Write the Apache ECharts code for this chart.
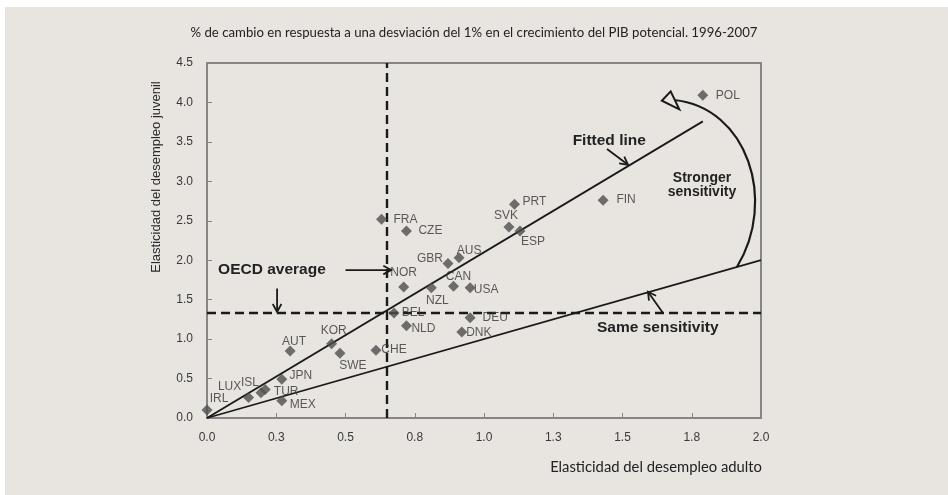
<!DOCTYPE html>
<html>
<head>
<meta charset="utf-8">
<script src="https://cdn.jsdelivr.net/npm/echarts@6/dist/echarts.min.js"></script>
<style>
  html, body { margin: 0; padding: 0; background: #fff; }
  #chart { width: 948px; height: 495px; }
</style>
</head>
<body>
<div id="chart"></div>
<script>
// countries and elasticities
const countries = ['IRL', 'LUX', 'ISL', 'TUR', 'MEX', 'JPN', 'AUT', 'KOR', 'SWE', 'CHE', 'BEL', 'NLD', 'NOR', 'NZL',
  'CAN', 'USA', 'GBR', 'AUS', 'DEU', 'DNK', 'FRA', 'CZE', 'PRT', 'SVK', 'ESP', 'FIN', 'POL']
const adultElast = [0.00, 0.15, 0.195, 0.21, 0.27, 0.27, 0.30, 0.45, 0.48, 0.61, 0.675, 0.72, 0.71, 0.81,
  0.89, 0.95, 0.87, 0.91, 0.95, 0.92, 0.63, 0.72, 1.11, 1.09, 1.13, 1.43, 1.79]
const youthElast = [0.10, 0.26, 0.32, 0.36, 0.22, 0.49, 0.85, 0.94, 0.82, 0.86, 1.33, 1.17, 1.66, 1.65,
  1.67, 1.65, 1.96, 2.03, 1.27, 1.09, 2.52, 2.37, 2.71, 2.42, 2.37, 2.76, 4.09]

const oecdAdult = 0.653
const oecdYouth = 1.343
const fittedLine = [[0, 0], [1.79, 3.76]]
const sameLine = [[0, 0], [2.0, 2.0]]

// label offsets (px) from the marker centre
const labelOffset = {
  IRL: [12, -11], LUX: [-19, -11], ISL: [-11, -10], TUR: [21, 2], MEX: [21, 4], JPN: [19, -4],
  AUT: [4, -9], KOR: [2, -13], SWE: [13, 12], CHE: [18, 0], BEL: [19, 0], NLD: [17, 3],
  NOR: [0, -14], NZL: [6, 13], CAN: [5, -10], USA: [16, 2], GBR: [-18, -5], AUS: [10, -7],
  DEU: [25, 0], DNK: [17, 1], FRA: [24, 0], CZE: [24, 0], PRT: [20, -3], SVK: [-3, -11],
  ESP: [13, 11], FIN: [23, -1], POL: [25, 0]
}

const bg = '#e8e5e1'
const chart = echarts.init(document.getElementById('chart'))

const option = {
  backgroundColor: '#ffffff',
  animation: false,
  grid: { left: 207, right: 187, top: 63, bottom: 77, show: true, borderColor: '#858585', borderWidth: 2 },
  xAxis: {
    type: 'value', min: 0, max: 2, interval: 0.25,
    axisLine: { lineStyle: { color: '#858585', width: 2 } },
    axisTick: { inside: true, length: 5, lineStyle: { color: '#858585' } },
    splitLine: { show: false },
    axisLabel: { formatter: v => v.toFixed(1), color: '#3a3a3a', fontSize: 12, fontFamily: 'Liberation Sans', margin: 14 }
  },
  yAxis: {
    type: 'value', min: 0, max: 4.5, interval: 0.5,
    axisLine: { show: true, lineStyle: { color: '#858585', width: 2 } },
    axisTick: { show: true, inside: true, length: 5, lineStyle: { color: '#858585' } },
    splitLine: { show: false },
    axisLabel: { formatter: v => v.toFixed(1), color: '#3a3a3a', fontSize: 12, fontFamily: 'Liberation Sans', margin: 14 }
  },
  series: [
    {
      type: 'line', data: fittedLine, symbol: 'none', z: 3,
      lineStyle: { color: '#1a1a1a', width: 1.8 }
    },
    {
      type: 'line', data: sameLine, symbol: 'none', z: 3,
      lineStyle: { color: '#1a1a1a', width: 1.8 },
      markLine: {
        silent: true, symbol: 'none', label: { show: false },
        lineStyle: { color: '#1a1a1a', type: [9, 5], width: 2.4 },
        data: [{ xAxis: oecdAdult }, { yAxis: oecdYouth }]
      }
    },
    {
      type: 'scatter', symbol: 'diamond', symbolSize: 11, z: 5,
      itemStyle: { color: '#4d4d4d' },
      label: {
        show: true, position: 'inside', formatter: '{b}',
        color: '#333333', fontSize: 12, fontFamily: 'Liberation Sans'
      },
      data: countries.map((c, i) => ({
        name: c,
        value: [adultElast[i], youthElast[i]],
        label: { offset: labelOffset[c] }
      }))
    }
  ]
}
chart.setOption(option)

// annotations placed in data coordinates
const px = (x, y) => chart.convertToPixel({ gridIndex: 0 }, [x, y])
const ink = '#1a1a1a'

function arrow (from, to, head) {
  const a = px(from[0], from[1])
  const b = px(to[0], to[1])
  const ang = Math.atan2(b[1] - a[1], b[0] - a[0])
  const len = head || 9
  const h1 = [b[0] - len * Math.cos(ang - 0.5), b[1] - len * Math.sin(ang - 0.5)]
  const h2 = [b[0] - len * Math.cos(ang + 0.5), b[1] - len * Math.sin(ang + 0.5)]
  return [
    { type: 'line', shape: { x1: a[0], y1: a[1], x2: b[0], y2: b[1] }, style: { stroke: ink, lineWidth: 1.8 }, z: 10 },
    { type: 'polyline', shape: { points: [h1, b, h2] }, style: { stroke: ink, lineWidth: 1.8, fill: null }, z: 10 }
  ]
}

function label (text, at, opts) {
  const p = px(at[0], at[1])
  return {
    type: 'text', x: p[0], y: p[1], z: 10,
    style: Object.assign({
      text: text, fill: '#222', font: 'bold 15.5px "Liberation Sans"',
      align: 'left', verticalAlign: 'middle'
    }, opts || {})
  }
}

const p0 = px(1.913, 1.914)
const p1 = px(2.06, 2.76)
const p2 = px(1.95, 3.94)
const p3 = px(1.686, 4.031)
const tri = [px(1.674, 4.14), px(1.642, 4.022), px(1.705, 3.912)]

const xRight = px(2, 0)[0]

chart.setOption({
  graphic: [
    { type: 'rect', shape: { x: 5, y: 7, width: 943, height: 488 }, style: { fill: bg }, z: -10, silent: true },
    {
      type: 'text', x: 474, y: 33, z: 10,
      style: {
        text: '% de cambio en respuesta a una desviación del 1% en el crecimiento del PIB potencial. 1996-2007',
        fill: '#222', font: '13.2px Lato', align: 'center', verticalAlign: 'middle'
      }
    },
    {
      type: 'text', x: 156, y: 177, rotation: Math.PI / 2, z: 10,
      style: {
        text: 'Elasticidad del desempleo juvenil',
        fill: '#2a2a2a', font: '13px "Liberation Sans"', align: 'center', verticalAlign: 'middle'
      }
    },
    {
      type: 'text', x: xRight + 1, y: 467, z: 10,
      style: {
        text: 'Elasticidad del desempleo adulto',
        fill: '#222', font: '14.8px Lato', align: 'right', verticalAlign: 'middle'
      }
    },
    label('OECD average', [0.04, 1.875]),
    ...arrow([0.50, 1.875], [0.665, 1.875]),
    ...arrow([0.253, 1.64], [0.253, 1.345]),
    label('Fitted line', [1.32, 3.51]),
    ...arrow([1.444, 3.41], [1.52, 3.21]),
    label('Same sensitivity', [1.408, 1.15]),
    ...arrow([1.646, 1.33], [1.592, 1.60]),
    label('Stronger', [1.787, 3.04], { align: 'center', font: 'bold 14px "Liberation Sans"' }),
    label('sensitivity', [1.787, 2.86], { align: 'center', font: 'bold 14px "Liberation Sans"' }),
    {
      type: 'bezierCurve', z: 10,
      shape: { x1: p0[0], y1: p0[1], cpx1: p1[0], cpy1: p1[1], cpx2: p2[0], cpy2: p2[1], x2: p3[0], y2: p3[1] },
      style: { stroke: ink, lineWidth: 2.2, fill: null }
    },
    { type: 'polygon', z: 11, shape: { points: tri }, style: { stroke: ink, lineWidth: 2, fill: bg } }
  ]
})
</script>
</body>
</html>
